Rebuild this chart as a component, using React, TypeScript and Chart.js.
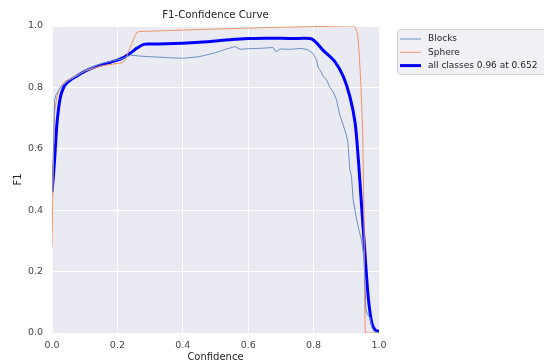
import React, { useEffect, useRef } from "react";
import { Chart, registerables } from "chart.js";

Chart.register(...registerables);

const chartTitle = "F1-Confidence Curve";
const xTitle = "Confidence";
const yTitle = "F1";
const seriesNames = ["Blocks", "Sphere", "all classes 0.96 at 0.652"];
const tickValues = [0, 0.2, 0.4, 0.6, 0.8, 1.0];

const blocksConf = [0, 0.005, 0.008, 0.012, 0.02, 0.03, 0.05, 0.08, 0.1, 0.15, 0.2, 0.22, 0.24, 0.27, 0.3, 0.35, 0.4, 0.45, 0.5, 0.524, 0.56, 0.575, 0.6, 0.65, 0.676, 0.685, 0.697, 0.73, 0.758, 0.78, 0.798, 0.809, 0.815, 0.82, 0.83, 0.84, 0.85, 0.86, 0.87, 0.88, 0.89, 0.9, 0.905, 0.911, 0.916, 0.921, 0.932, 0.94, 0.947, 0.952, 0.956, 0.96, 0.965, 0.972, 0.978, 0.985, 1.0];
const blocksF1 = [0.45, 0.62, 0.76, 0.775, 0.79, 0.805, 0.822, 0.84, 0.855, 0.878, 0.89, 0.895, 0.905, 0.902, 0.9, 0.897, 0.895, 0.9, 0.913, 0.922, 0.933, 0.924, 0.926, 0.928, 0.93, 0.916, 0.925, 0.924, 0.927, 0.924, 0.911, 0.889, 0.862, 0.857, 0.835, 0.824, 0.8, 0.785, 0.76, 0.71, 0.68, 0.645, 0.62, 0.53, 0.51, 0.433, 0.368, 0.33, 0.3, 0.26, 0.2, 0.075, 0.06, 0.05, 0.02, 0.005, 0];

const sphereConf = [0, 0.004, 0.008, 0.015, 0.025, 0.04, 0.06, 0.1, 0.15, 0.2, 0.215, 0.225, 0.235, 0.245, 0.255, 0.26, 0.27, 0.35, 0.5, 0.6, 0.7, 0.8, 0.9, 0.925, 0.93, 0.935, 0.94, 0.945, 0.95, 0.954, 0.956, 0.958, 1.0];
const sphereF1 = [0.28, 0.55, 0.72, 0.77, 0.8, 0.82, 0.83, 0.853, 0.87, 0.878, 0.88, 0.89, 0.92, 0.945, 0.97, 0.98, 0.982, 0.985, 0.99, 0.993, 0.996, 0.998, 1.0, 1.0, 0.99, 0.97, 0.9, 0.8, 0.66, 0.4, 0.1, 0, 0];

const allConf = [0, 0.005, 0.01, 0.015, 0.02, 0.025, 0.03, 0.04, 0.055, 0.07, 0.1, 0.13, 0.16, 0.2, 0.22, 0.24, 0.26, 0.28, 0.3, 0.35, 0.4, 0.45, 0.5, 0.55, 0.6, 0.652, 0.7, 0.75, 0.794, 0.83, 0.865, 0.891, 0.911, 0.927, 0.937, 0.947, 0.957, 0.967, 0.978, 0.988, 1.0];
const allF1 = [0.46, 0.52, 0.6, 0.68, 0.73, 0.765, 0.785, 0.808, 0.823, 0.833, 0.852, 0.866, 0.876, 0.889, 0.898, 0.912, 0.928, 0.94, 0.941, 0.942, 0.944, 0.947, 0.951, 0.956, 0.959, 0.96, 0.96, 0.959, 0.958, 0.92, 0.884, 0.835, 0.77, 0.684, 0.563, 0.41, 0.26, 0.118, 0.032, 0.01, 0.005];

const colors = ["#6a8fc4", "#ee9566", "#0000ff"];
const widths = [1, 1, 3];

const pts = (xs: number[], ys: number[]) => xs.map((x, i) => ({ x, y: ys[i] }));

export default function App() {
  const ref = useRef<HTMLCanvasElement | null>(null);
  useEffect(() => {
    const canvas = ref.current!;
    const font = "DejaVu Sans";
    const bgPlugin = {
      id: "bg",
      beforeDraw(chart: any) {
        const { ctx, chartArea: a } = chart;
        ctx.save();
        ctx.fillStyle = "#eaeaf2";
        ctx.fillRect(a.left, a.top, a.right - a.left, a.bottom - a.top);
        ctx.restore();
      },
      afterDraw(chart: any) {
        const { ctx, chartArea: a } = chart;
        ctx.save();
        ctx.fillStyle = "#262626";
        ctx.font = `10.2px "${font}"`;
        ctx.textAlign = "center";
        ctx.textBaseline = "middle";
        ctx.fillText(chartTitle, (a.left + a.right) / 2, 15);
        // legend
        const lx = 397, ly = 29, lw = 152, lh = 45;
        ctx.fillStyle = "rgba(238,238,244,0.9)";
        ctx.strokeStyle = "#d4d4dc";
        ctx.lineWidth = 1;
        ctx.beginPath();
        ctx.roundRect(lx + 0.5, ly + 0.5, lw, lh, 3);
        ctx.fill();
        ctx.stroke();
        ctx.font = `9px "${font}"`;
        ctx.textAlign = "left";
        seriesNames.forEach((name, i) => {
          const y = 39 + i * 13.3;
          ctx.strokeStyle = colors[i];
          ctx.lineWidth = widths[i];
          ctx.beginPath();
          ctx.moveTo(400, y);
          ctx.lineTo(421, y);
          ctx.stroke();
          ctx.fillStyle = "#262626";
          ctx.fillText(name, 428, y);
        });
        ctx.restore();
      },
    };
    const chart = new Chart(canvas, {
      type: "line",
      data: {
        datasets: [
          { label: seriesNames[0], data: pts(blocksConf, blocksF1), borderColor: colors[0], borderWidth: widths[0], pointRadius: 0, tension: 0 },
          { label: seriesNames[1], data: pts(sphereConf, sphereF1), borderColor: colors[1], borderWidth: widths[1], pointRadius: 0, tension: 0 },
          { label: seriesNames[2], data: pts(allConf, allF1), borderColor: colors[2], borderWidth: widths[2], pointRadius: 0, tension: 0.3 },
        ],
      },
      options: {
        animation: false,
        responsive: false,
        maintainAspectRatio: false,
        layout: { padding: { top: 26, right: 165, left: 0, bottom: 0 } },
        plugins: { legend: { display: false }, tooltip: { enabled: false }, title: { display: false } },
        scales: {
          x: {
            type: "linear",
            min: 0,
            max: 1,
            afterFit: (s: any) => { s.height = 30; },
            afterBuildTicks: (s: any) => { s.ticks = tickValues.map((v) => ({ value: v })); },
            grid: { color: "#ffffff", lineWidth: 1, drawTicks: false },
            border: { display: false },
            ticks: { color: "#444", font: { family: font, size: 9.5 }, padding: 7, callback: (v: any) => Number(v).toFixed(1) },
            title: { display: true, text: xTitle, color: "#262626", font: { family: font, size: 10 }, padding: { top: 0, bottom: 0 } },
          },
          y: {
            type: "linear",
            min: 0,
            max: 1,
            afterFit: (s: any) => { s.width = 52; },
            afterBuildTicks: (s: any) => { s.ticks = tickValues.map((v) => ({ value: v })); },
            grid: { color: "#ffffff", lineWidth: 1, drawTicks: false },
            border: { display: false },
            ticks: { color: "#444", font: { family: font, size: 9.5 }, padding: 9, callback: (v: any) => Number(v).toFixed(1) },
            title: { display: true, text: yTitle, color: "#262626", font: { family: font, size: 10 }, padding: { top: 12, bottom: 0 } },
          },
        },
      },
      plugins: [bgPlugin],
    } as any);
    return () => chart.destroy();
  }, []);
  return (
    <div style={{ position: "fixed", left: 0, top: 0, width: 544, height: 363, background: "#fff" }}>
      <canvas ref={ref} width={544} height={363} style={{ width: 544, height: 363, display: "block" }} />
    </div>
  );
}
